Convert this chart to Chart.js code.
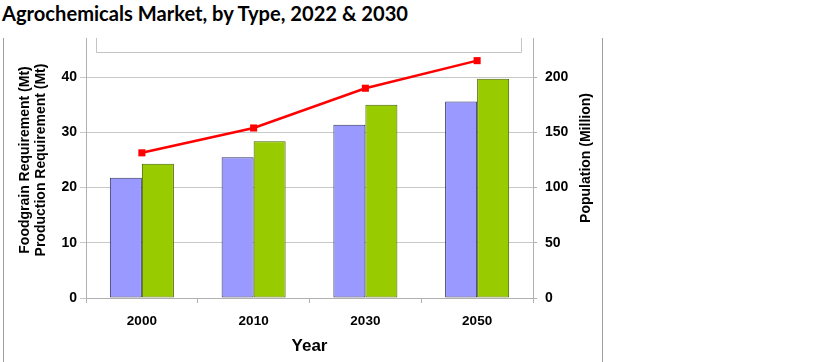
<!DOCTYPE html>
<html>
<head>
<meta charset="utf-8">
<script src="https://cdn.jsdelivr.net/npm/chart.js@4.4.1/dist/chart.umd.min.js"></script>
<style>
  html, body { margin: 0; padding: 0; background: #fff; width: 824px; height: 362px; overflow: hidden; }
  #title { position: absolute; left: 2px; top: 0px; font-family: "Lato", "Open Sans", sans-serif; font-weight: bold; font-size: 20px; line-height: 26px; color: #000; white-space: nowrap; transform-origin: left top; }
  #frame { position: absolute; left: 3px; top: 38px; width: 598px; height: 324px; border-left: 1px solid #a0a0a0; border-right: 1px solid #a0a0a0; overflow: hidden; }
  #c { position: absolute; left: 0; top: -40px; }
</style>
</head>
<body>
<div id="title">Agrochemicals Market, by Type, 2022 &amp; 2030</div>
<div id="frame"><canvas id="c" width="598" height="364"></canvas></div>
<script>
const years = ['2000', '2010', '2030', '2050'];
const foodgrain = [21.8, 25.5, 31.4, 35.6];
const production = [24.3, 28.4, 35.0, 39.7];
const population = [131.5, 154, 190, 215];
const leftTicks = [0, 10, 20, 30, 40];
const rightTicks = [0, 50, 100, 150, 200];

// fit title width
(function(){
  const t = document.getElementById('title');
  const w = t.getBoundingClientRect().width;
  t.style.transform = 'scaleX(' + (406 / w) + ')';
})();

const FONT = '"Liberation Sans", Arial, sans-serif';

const legendBox = {
  id: 'legendBox',
  afterDraw(chart) {
    const ca = chart.chartArea, ctx = chart.ctx;
    ctx.save();
    ctx.strokeStyle = '#c4c4c4';
    ctx.lineWidth = 1;
    const x0 = Math.round(ca.left + 10) + 0.5;
    const x1 = Math.round(ca.right - 12) + 0.5;
    const yb = Math.round(ca.top + 30) + 0.5;
    ctx.fillStyle = '#fff';
    ctx.fillRect(x0, ca.top - 10, x1 - x0, yb - ca.top + 10);
    ctx.beginPath();
    ctx.moveTo(x0, ca.top - 10);
    ctx.lineTo(x0, yb);
    ctx.lineTo(x1, yb);
    ctx.lineTo(x1, ca.top - 10);
    ctx.stroke();
    ctx.restore();
  }
};

const rightTitle = {
  id: 'rightTitle',
  afterDraw(chart) {
    const s = chart.scales.y1, ca = chart.chartArea, ctx = chart.ctx;
    ctx.save();
    ctx.translate(s.right - 16, (ca.top + ca.bottom) / 2 - 2);
    ctx.rotate(-Math.PI / 2);
    ctx.font = 'bold 14px ' + FONT;
    ctx.fillStyle = '#000';
    ctx.textAlign = 'center';
    ctx.textBaseline = 'middle';
    ctx.fillText('Population (Million)', 0, 0);
    ctx.restore();
  }
};

new Chart(document.getElementById('c'), {
  type: 'bar',
  data: {
    labels: years,
    datasets: [
      { type: 'line', label: 'Population', data: population, yAxisID: 'y1', order: 0,
        borderColor: '#ff0000', backgroundColor: '#ff0000', borderWidth: 2.5,
        pointStyle: 'rect', pointRadius: 5, pointBorderWidth: 0 },
      { label: 'Foodgrain Requirement', data: foodgrain, yAxisID: 'y', order: 1,
        backgroundColor: '#9999ff', borderColor: '#33335e', borderWidth: 1, borderSkipped: false },
      { label: 'Production Requirement', data: production, yAxisID: 'y', order: 1,
        backgroundColor: '#99cc00', borderColor: '#4a6300', borderWidth: 1, borderSkipped: false }
    ]
  },
  options: {
    responsive: false,
    animation: false,
    devicePixelRatio: 1,
    layout: { padding: { top: 24, left: 0, right: 0, bottom: 0 } },
    datasets: { bar: { categoryPercentage: 0.573, barPercentage: 1 } },
    plugins: { legend: { display: false }, tooltip: { enabled: false }, title: { display: false } },
    scales: {
      x: {
        grid: { offset: true, drawOnChartArea: false, tickLength: 5, color: '#b0b0b0' },
        border: { color: '#b0b0b0' },
        ticks: { color: '#000', font: { family: FONT, size: 13.5, weight: 'bold' }, padding: 10 },
        title: { display: true, text: 'Year', color: '#000', font: { family: FONT, size: 17, weight: 'bold' }, padding: { top: 0, bottom: 5 } },
        afterFit(s) { s.height = 64; }
      },
      y: {
        position: 'left', min: 0, max: 50,
        afterBuildTicks(s) { s.ticks = leftTicks.map(v => ({ value: v })); },
        grid: { color: '#c8c8c8', tickLength: 6 },
        border: { color: '#b0b0b0' },
        ticks: { color: '#000', font: { family: FONT, size: 14, weight: 'bold' }, padding: 3 },
        title: { display: true, text: ['Foodgrain Requirement (Mt)', 'Production Requirement (Mt)'], color: '#000',
          font: { family: FONT, size: 14, weight: 'bold', lineHeight: 1.15 }, padding: { top: 13, bottom: 0 } },
        afterFit(s) { s.width = 82; }
      },
      y1: {
        position: 'right', min: 0, max: 250,
        afterBuildTicks(s) { s.ticks = rightTicks.map(v => ({ value: v })); },
        grid: { drawOnChartArea: false, color: '#b0b0b0', tickLength: 4 },
        border: { color: '#b0b0b0' },
        ticks: { color: '#000', font: { family: FONT, size: 14, weight: 'bold' }, padding: 8 },
        afterFit(s) { s.width = 69; }
      }
    }
  },
  plugins: [legendBox, rightTitle]
});
</script>
</body>
</html>
